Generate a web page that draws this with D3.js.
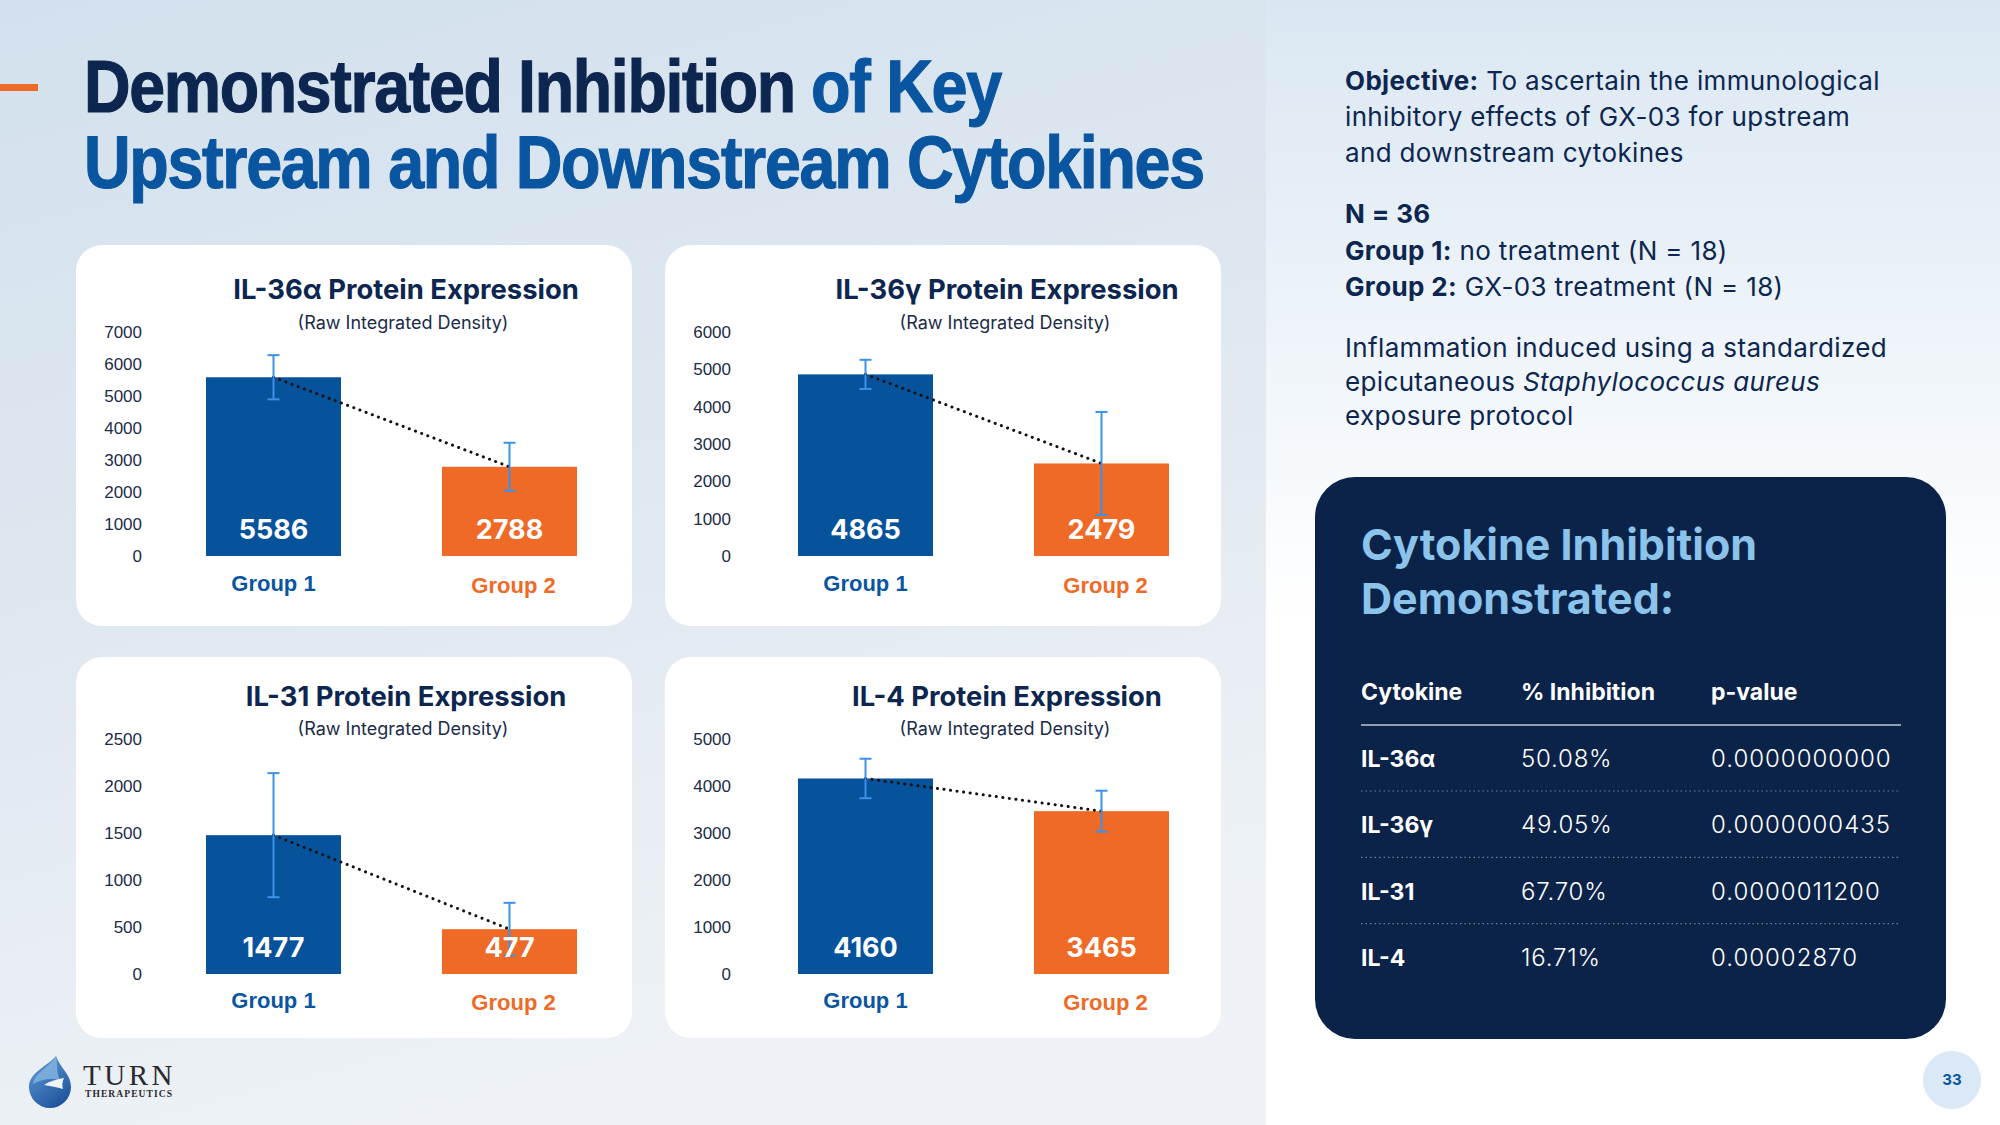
<!DOCTYPE html>
<html>
<head>
<meta charset="utf-8">
<script src="https://cdn.jsdelivr.net/npm/d3@7"></script>
<style>
  body { margin: 0; background: #fff; }
  svg { display: block; }
</style>
</head>
<body>
<div id="slide"></div>
<script>
// chart values
var cytokines = ["IL-36α", "IL-36γ", "IL-31", "IL-4"];
var groups = ["Group 1", "Group 2"];
var group1Mean = [5586, 4865, 1477, 4160];
var group2Mean = [2788, 2479, 477, 3465];
var group1Err = [690, 390, 660, 420];
var group2Err = [750, 1380, 280, 435];
var axisMax = [7000, 6000, 2500, 5000];
var tickStep = [1000, 1000, 500, 1000];

// summary table
var tableHead = ["Cytokine", "% Inhibition", "p-value"];
var inhibition = ["50.08%", "49.05%", "67.70%", "16.71%"];
var pValues = ["0.0000000000", "0.0000000435", "0.0000011200", "0.00002870"];

var W = 2000, H = 1125;
var navy = "#0c2650", blue = "#07539b", orange = "#ee6a26", errBlue = "#3b92e8", titleBlue = "#0a55a0";
var inter = "Inter, 'Noto Sans', sans-serif";
var arial = "'Liberation Sans', Arial, sans-serif";
var serif = "'Liberation Serif', 'DejaVu Serif', serif";

var svg = d3.select("#slide").append("svg")
    .attr("width", W)
    .attr("height", H);

var defs = svg.append("defs");
var lg = defs.append("linearGradient").attr("id", "bgLeft").attr("x1", 0).attr("y1", 0).attr("x2", 0.3).attr("y2", 1);
lg.append("stop").attr("offset", "0%").attr("stop-color", "#d2e1ee");
lg.append("stop").attr("offset", "55%").attr("stop-color", "#e0e8f0");
lg.append("stop").attr("offset", "100%").attr("stop-color", "#eef2f6");
var rg = defs.append("linearGradient").attr("id", "bgRight").attr("x1", 0).attr("y1", 0).attr("x2", 0).attr("y2", 1);
rg.append("stop").attr("offset", "0%").attr("stop-color", "#dae7f2");
rg.append("stop").attr("offset", "55%").attr("stop-color", "#ffffff");
rg.append("stop").attr("offset", "100%").attr("stop-color", "#ffffff");
var dg = defs.append("linearGradient").attr("id", "drop").attr("x1", 0.2).attr("y1", 0).attr("x2", 0.8).attr("y2", 1);
dg.append("stop").attr("offset", "0%").attr("stop-color", "#5e9ad6");
dg.append("stop").attr("offset", "100%").attr("stop-color", "#1b4f98");

svg.append("rect").attr("width", 1266).attr("height", H).attr("fill", "url(#bgLeft)");
svg.append("rect").attr("x", 1266).attr("width", W - 1266).attr("height", H).attr("fill", "url(#bgRight)");

// title: natural width measured, then squeezed to the reference width
svg.append("rect").attr("x", 0).attr("y", 84).attr("width", 38).attr("height", 7).attr("fill", orange);
function titlePart(x, y, len, color, txt) {
    var t = svg.append("text")
        .attr("font-family", arial).attr("font-weight", 700).attr("font-size", 74)
        .attr("letter-spacing", -1.5)
        .attr("fill", color).attr("stroke", color).attr("stroke-width", 1.2)
        .text(txt);
    var w = t.node().getComputedTextLength();
    t.attr("transform", "translate(" + x + "," + y + ") scale(" + (len / w) + ",1)");
}
titlePart(84, 112, 711, navy, "Demonstrated Inhibition");
titlePart(811, 112, 190, titleBlue, "of Key");
titlePart(84, 188, 1120, titleBlue, "Upstream and Downstream Cytokines");

// chart cards
var cardX = [76, 665, 76, 665];
var colOff = [
    { title: 330, sub: 327, bar: 130 },
    { title: 342, sub: 340, bar: 133 }
];
var rows = [
    { y: 245, title: 299, sub: 329, top: 332, base: 556, label: 591 },
    { y: 657, title: 706, sub: 735, top: 739, base: 974, label: 1008 }
];

cytokines.forEach(function (name, i) {
    var cx = cardX[i], L = rows[Math.floor(i / 2)], C = colOff[i % 2];
    var g = svg.append("g").attr("class", "chart");
    var means = [group1Mean[i], group2Mean[i]];
    var errs = [group1Err[i], group2Err[i]];

    g.append("rect")
        .attr("x", cx).attr("y", L.y)
        .attr("width", 556).attr("height", 381)
        .attr("rx", 26).attr("fill", "#fff");

    g.append("text")
        .attr("x", cx + C.title).attr("y", L.title)
        .attr("text-anchor", "middle")
        .attr("font-family", inter).attr("font-weight", 700).attr("font-size", 27.4)
        .attr("fill", navy)
        .text(name + " Protein Expression");
    g.append("text")
        .attr("x", cx + C.sub).attr("y", L.sub)
        .attr("text-anchor", "middle")
        .attr("font-family", inter).attr("font-size", 18)
        .attr("fill", "#1b2b48")
        .text("(Raw Integrated Density)");

    var y = d3.scaleLinear().domain([0, axisMax[i]]).range([L.base, L.top]);
    var x = d3.scaleBand().domain(groups).range([cx + C.bar, cx + C.bar + 371]).paddingInner(0.428);

    var ax = g.append("g")
        .attr("transform", "translate(" + (cx + 66) + ",0)")
        .call(d3.axisLeft(y)
            .tickValues(d3.range(0, axisMax[i] + 1, tickStep[i]))
            .tickSize(0).tickPadding(0)
            .tickFormat(d3.format("d")));
    ax.select(".domain").remove();
    ax.selectAll("text")
        .attr("font-family", arial).attr("font-size", 17)
        .attr("fill", "#1b2b48");

    g.selectAll(".bar")
        .data(groups)
        .enter().append("rect")
        .attr("class", "bar")
        .attr("x", function (d) { return x(d); })
        .attr("width", x.bandwidth())
        .attr("y", function (d, j) { return y(means[j]); })
        .attr("height", function (d, j) { return y(0) - y(means[j]); })
        .attr("fill", function (d, j) { return j ? orange : blue; });

    var mid = function (d) { return x(d) + x.bandwidth() / 2; };

    g.append("line")
        .attr("x1", mid(groups[0])).attr("y1", y(means[0]))
        .attr("x2", mid(groups[1])).attr("y2", y(means[1]))
        .attr("stroke", "#111").attr("stroke-width", 3)
        .attr("stroke-linecap", "round").attr("stroke-dasharray", "0.1,6.5");

    var eb = g.selectAll(".err")
        .data(groups)
        .enter().append("g")
        .attr("class", "err")
        .attr("stroke", errBlue).attr("stroke-width", 2);
    eb.append("line")
        .attr("x1", mid).attr("x2", mid)
        .attr("y1", function (d, j) { return y(means[j] + errs[j]); })
        .attr("y2", function (d, j) { return y(means[j] - errs[j]); });
    [1, -1].forEach(function (s) {
        eb.append("line")
            .attr("x1", function (d) { return mid(d) - 6; })
            .attr("x2", function (d) { return mid(d) + 6; })
            .attr("y1", function (d, j) { return y(means[j] + s * errs[j]); })
            .attr("y2", function (d, j) { return y(means[j] + s * errs[j]); });
    });

    g.selectAll(".val")
        .data(groups)
        .enter().append("text")
        .attr("class", "val")
        .attr("x", mid)
        .attr("y", y(0) - 17)
        .attr("text-anchor", "middle")
        .attr("font-family", inter).attr("font-weight", 700).attr("font-size", 27)
        .attr("fill", "#fff")
        .text(function (d, j) { return means[j]; });

    g.selectAll(".grp")
        .data(groups)
        .enter().append("text")
        .attr("class", "grp")
        .attr("x", function (d, j) { return mid(d) + j * 4; })
        .attr("y", function (d, j) { return L.label + j * 2; })
        .attr("text-anchor", "middle")
        .attr("font-family", arial).attr("font-weight", 700).attr("font-size", 22)
        .attr("fill", function (d, j) { return j ? orange : titleBlue; })
        .text(function (d) { return d; });
});

// right column notes
var notes = svg.append("g")
    .attr("font-family", inter).attr("font-size", 26)
    .attr("letter-spacing", 0.35).attr("fill", navy);
function noteLine(yy, parts) {
    var t = notes.append("text").attr("x", 1345).attr("y", yy);
    parts.forEach(function (p) {
        var s = t.append("tspan").text(p[0]);
        if (p[1] === "b") s.attr("font-weight", 700);
        if (p[1] === "i") s.attr("font-style", "italic");
    });
}
noteLine(90, [["Objective:", "b"], [" To ascertain the immunological"]]);
noteLine(126, [["inhibitory effects of GX-03 for upstream"]]);
noteLine(162, [["and downstream cytokines"]]);
noteLine(223, [["N = 36", "b"]]);
noteLine(260, [["Group 1:", "b"], [" no treatment (N = 18)"]]);
noteLine(296, [["Group 2:", "b"], [" GX-03 treatment (N = 18)"]]);
noteLine(357, [["Inflammation induced using a standardized"]]);
noteLine(391, [["epicutaneous "], ["Staphylococcus aureus", "i"]]);
noteLine(425, [["exposure protocol"]]);

// summary panel
var panel = svg.append("g");
panel.append("rect")
    .attr("x", 1315).attr("y", 477)
    .attr("width", 631).attr("height", 562)
    .attr("rx", 40).attr("fill", "#0b2349");
panel.append("text")
    .attr("x", 1361).attr("y", 560)
    .attr("font-family", inter).attr("font-weight", 700).attr("font-size", 43)
    .attr("fill", "#8cc3ea").text("Cytokine Inhibition");
panel.append("text")
    .attr("x", 1361).attr("y", 614)
    .attr("font-family", inter).attr("font-weight", 700).attr("font-size", 43)
    .attr("fill", "#8cc3ea").text("Demonstrated:");

var colX = [1361, 1521, 1711];
panel.selectAll(".th")
    .data(tableHead)
    .enter().append("text")
    .attr("x", function (d, k) { return colX[k]; })
    .attr("y", 700)
    .attr("font-family", inter).attr("font-weight", 700).attr("font-size", 23)
    .attr("fill", "#fff")
    .text(function (d) { return d; });
panel.append("line")
    .attr("x1", 1361).attr("x2", 1901).attr("y1", 725).attr("y2", 725)
    .attr("stroke", "#8e9db4").attr("stroke-width", 2);

var rowY = d3.scalePoint().domain(cytokines).range([767, 966]);
cytokines.forEach(function (c, r) {
    var yy = rowY(c);
    panel.append("text").attr("x", colX[0]).attr("y", yy)
        .attr("font-family", inter).attr("font-weight", 700).attr("font-size", 23)
        .attr("fill", "#fff").text(c);
    panel.append("text").attr("x", colX[1]).attr("y", yy)
        .attr("font-family", inter).attr("font-weight", 300).attr("font-size", 24)
        .attr("letter-spacing", 0.8)
        .attr("fill", "#fff").text(inhibition[r]);
    panel.append("text").attr("x", colX[2]).attr("y", yy)
        .attr("font-family", inter).attr("font-weight", 300).attr("font-size", 24)
        .attr("letter-spacing", 1.0)
        .attr("fill", "#fff").text(pValues[r]);
    if (r < cytokines.length - 1) {
        panel.append("line")
            .attr("x1", 1361).attr("x2", 1901)
            .attr("y1", yy + 24).attr("y2", yy + 24)
            .attr("stroke", "#6f7f9a").attr("stroke-width", 1.2)
            .attr("stroke-dasharray", "1.5,3");
    }
});

// logo
var logo = svg.append("g");
logo.append("path")
    .attr("d", "M56,1056 C48,1066 29,1072 29,1087 A21,21 0 0 0 71,1087 C71,1074 60,1068 56,1056 Z")
    .attr("fill", "url(#drop)");
logo.append("path")
    .attr("d", "M56,1056 C50,1067 35,1072 33,1084 C41,1079 52,1078 60,1080 C56,1072 58,1064 56,1056 Z")
    .attr("fill", "#8ab8e4").attr("opacity", 0.75);
logo.append("path")
    .attr("d", "M44,1085 C50,1081 57,1079 64,1078 C62,1082 62,1086 63,1089 C57,1087 50,1086 44,1085 Z")
    .attr("fill", "#eef3f8");
logo.append("text")
    .attr("x", 83).attr("y", 1085)
    .attr("font-family", serif).attr("font-size", 29)
    .attr("letter-spacing", 3.5).attr("fill", "#2a2a2e")
    .text("TURN");
logo.append("text")
    .attr("x", 85).attr("y", 1097)
    .attr("font-family", serif).attr("font-size", 9.5)
    .attr("font-weight", 700).attr("letter-spacing", 1.1).attr("fill", "#2a2a2e")
    .text("THERAPEUTICS");

// page number
svg.append("circle").attr("cx", 1952).attr("cy", 1080).attr("r", 29).attr("fill", "#dbe9f6");
svg.append("text")
    .attr("x", 1952).attr("y", 1085)
    .attr("text-anchor", "middle")
    .attr("font-family", inter).attr("font-weight", 700).attr("font-size", 15)
    .attr("fill", titleBlue).text("33");
</script>
</body>
</html>
